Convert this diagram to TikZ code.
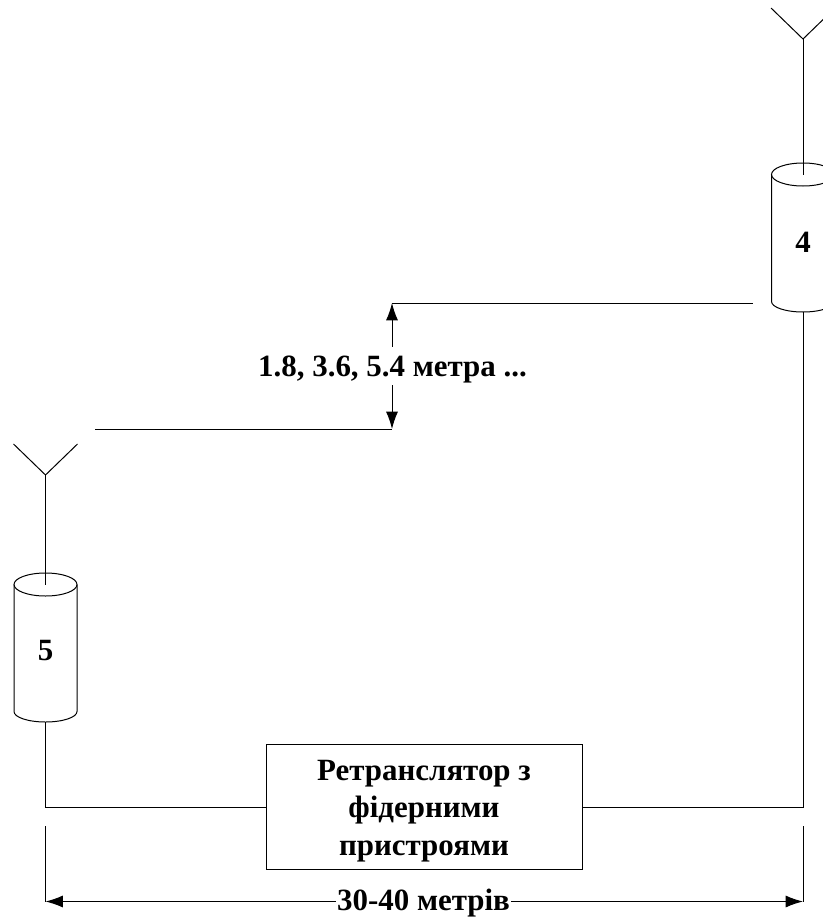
\documentclass[tikz,border=0pt]{standalone}
\usepackage{fontspec}
\setmainfont{Liberation Serif}
\usetikzlibrary{arrows.meta}

\begin{document}
\begin{tikzpicture}[x=0.75pt, y=-0.75pt, line width=0.75pt,
    label/.style={font=\fontsize{23.2}{28}\selectfont\bfseries, inner sep=0pt},
    dimension/.style={{Latex[length=13pt,width=9pt]}-{Latex[length=13pt,width=9pt]}}]
    % Fix the page size
    \useasboundingbox (0,0) rectangle (823,917);
    \clip (0,0) rectangle (823,917);

    % Draw both antennas with their cylinders
    \foreach \name/\x/\y/\top/\base in {4/803/174.5/39/252, 5/45.5/584.5/475/660} {
        \coordinate (stem\name) at (\x,\top);
        \coordinate (feed\name) at (\x,\y+137.5);
        \coordinate (base\name) at (\x,\y);
        \coordinate (armL\name) at (\x-32,\top-31);
        \coordinate (armR\name) at (\x+32,\top-31);
        \draw (armL\name) -- (stem\name) -- (armR\name);
        \draw (stem\name) -- (base\name);
        \draw (\x,\y) ellipse [x radius=31.5, y radius=11.5];
        \draw (\x-31.5,\y) -- (\x-31.5,\y+127)
            arc [start angle=180, end angle=360, x radius=31.5, y radius=-10.5]
            -- (\x+31.5,\y);
        \node[label, anchor=base] (cyl\name) at (\x,\base) {\name};
    }

    % Repeater box
    \node[draw, minimum width=237pt, minimum height=94pt] (relay) at (424,807) {};
    \node[label, align=center, anchor=base] (relaytext) at (424,855) {Ретранслятор з\\фідерними\\пристроями};

    % Feeders
    \draw (feed5) |- (relay.west);
    \draw (feed4) |- (relay.east);

    % Height difference
    \coordinate (upperL) at (392,303);
    \coordinate (upperR) at (753,303);
    \coordinate (lowerL) at (95,429);
    \coordinate (lowerR) at (392,429);
    \draw (upperL) -- (upperR);
    \draw (lowerL) -- (lowerR);
    \draw[dimension] (upperL) -- (lowerR);
    \node[label, fill=white, anchor=base, inner sep=2pt, text height=19.75pt, text depth=4.75pt] (height)
        at (392.5,376) {1.8, 3.6, 5.4 метра ...};

    % Distance between the antennas
    \coordinate (tickL) at (45.5,826);
    \coordinate (tickR) at (803,826);
    \coordinate (endL) at (45.5,901.5);
    \coordinate (endR) at (803,901.5);
    \draw (tickL) -- (endL);
    \draw (tickR) -- (endR);
    \draw[dimension] (endL) -- (endR);
    \node[label, fill=white, anchor=base, inner xsep=0.5pt, inner ysep=1pt] (distance) at (423.5,910) {30-40 метрів};
\end{tikzpicture}
\end{document}
